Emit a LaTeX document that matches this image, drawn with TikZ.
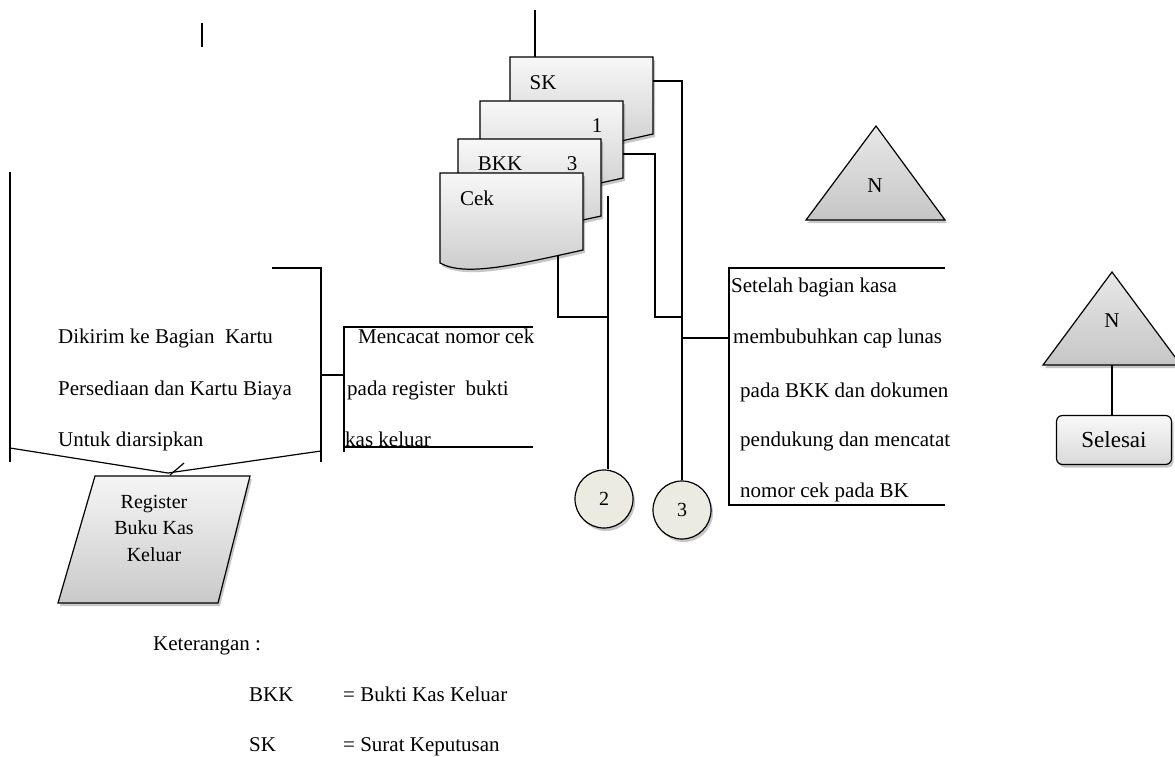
\documentclass[tikz,border=0pt]{standalone}
\usepackage{fontspec}
\setmainfont{Liberation Serif}
\usetikzlibrary{shadows}

% one document sheet with a wavy lower edge; #1 = name, (#2,#3) = top-left corner
\newcommand{\docsheet}[3]{%
  \begin{scope}[shift={(#2,#3)}]
    \path[sheet] (0,0) -- (143,0) -- (143,77)
      .. controls (75,92) and (25,104) .. (0,90) -- cycle;
    \coordinate (#1-nw) at (0,0);
  \end{scope}}

\begin{document}
\begin{tikzpicture}[x=1pt,y=-1pt,
  line/.style={line width=1.2pt},
  txt/.style={font=\fontsize{21}{25}\selectfont, inner sep=0pt, anchor=west,
              text height=14pt, text depth=4pt},
  ctxt/.style={txt, anchor=center},
  shade/.style={drop shadow={shadow xshift=2pt, shadow yshift=-3pt,
                opacity=0.22, fill=black}},
  sheet/.style={draw, line width=1.2pt, top color=gray!6, bottom color=gray!42, shade},
  tri/.style={draw, line width=1.2pt, top color=gray!18, bottom color=gray!45, shade},
  io/.style={draw, line width=1.2pt, top color=gray!8, bottom color=gray!42, shade},
  conn/.style={draw, line width=1.2pt, circle, minimum size=58pt, inner sep=0pt,
               fill={rgb,255:red,236;green,235;blue,226}, shade,
               font=\fontsize{20}{24}\selectfont},
  term/.style={draw, line width=1.2pt, rounded corners=6pt, top color=gray!5,
               bottom color=gray!30, shade, minimum width=115pt, minimum height=49pt,
               inner sep=0pt, font=\fontsize{23}{27}\selectfont}
]
\useasboundingbox (0,0) rectangle (1175,757);

% ---------- stray mark at the top ----------
\coordinate (m1a) at (202,23);
\coordinate (m1b) at (202,47);
\draw[line] (m1a) -- (m1b);

% ---------- left column: archive note and register ----------
\coordinate (lcTop) at (10,172);
\coordinate (lcBot) at (10,462);
\coordinate (lcV) at (10,448);
\coordinate (rcA) at (272,268);
\coordinate (rcB) at (321,268);
\coordinate (rcBot) at (321,462);
\coordinate (rcV) at (321,451);
\coordinate (vtip) at (168,473);
\draw[line] (lcTop) -- (lcBot);
\draw[line] (rcA) -- (rcB) -- (rcBot);
\draw[line] (lcV) -- (vtip) -- (rcV);

\node[txt] (t1) at (58,338) {Dikirim ke Bagian\ \ Kartu};
\node[txt] (t2) at (58,390) {Persediaan dan Kartu Biaya};
\node[txt] (t3) at (58,441) {Untuk diarsipkan};

\path[io] (95,476) -- (250,476) -- (218,603) -- (58,603) -- cycle;
\node[align=center, inner sep=0pt, font=\fontsize{20}{26.5}\selectfont]
  (reg) at (154,528) {Register\\Buku Kas\\Keluar};
\coordinate (regTop) at (170,475);
\coordinate (tick) at (184,463);
\draw[line] (regTop) -- (tick);

% ---------- middle note ----------
\coordinate (mbTop) at (344,327);
\coordinate (mbBot) at (344,452);
\coordinate (mbTR) at (533,327);
\coordinate (mbBL) at (344,447);
\coordinate (mbBR) at (533,447);
\draw[line] (mbBot) -- (mbTop) -- (mbTR);
\draw[line] (mbBL) -- (mbBR);
\node[txt] (m1) at (358,338) {Mencacat nomor cek};
\node[txt] (m2) at (347,390) {pada register\ \ bukti};
\node[txt] (m3) at (345,441) {kas keluar};
\coordinate (lcOut) at (321,375);
\coordinate (mbIn) at (344,375);
\draw[line] (lcOut) -- (mbIn);

% ---------- document stack ----------
\coordinate (skIn) at (535,57);
\coordinate (skFree) at (535,10);
\draw[line] (skFree) -- (skIn);
\docsheet{sk}{510}{57}
\docsheet{one}{480}{101}
\docsheet{bkk}{458}{139}
\docsheet{cek}{440}{173}
\node[ctxt] (lsk) at (543,85) {SK};
\node[ctxt] (lone) at (597,128) {1};
\node[ctxt] (lbkk) at (500,165) {BKK};
\node[ctxt] (lthree) at (572,165) {3};
\node[ctxt] (lcek) at (477,200) {Cek};

% ---------- off-page connectors ----------
\node[conn] (c2) at (604,499) {2};
\node[conn] (c3) at (682,510) {3};

\coordinate (skOut) at (653,81);
\coordinate (oneOut) at (623,154);
\coordinate (cekOut) at (558,255);
\coordinate (v2Top) at (608,196);
\coordinate (j2) at (608,317);
\coordinate (j1) at (655,317);
\coordinate (j3) at (682,317);
\coordinate (j4) at (682,338);
\coordinate (rbIn) at (729,338);

\draw[line] (skOut) -| (c3.north);
\draw[line] (oneOut) -| (j1) -- (j3);
\draw[line] (cekOut) |- (j2);
\draw[line] (v2Top) -- (v2Top |- c2.north);
\draw[line] (j4) -- (rbIn);

% ---------- right note ----------
\coordinate (rbTop) at (729,268);
\coordinate (rbBot) at (729,505);
\coordinate (rbTR) at (945,268);
\coordinate (rbBR) at (945,505);
\draw[line] (rbTR) -- (rbTop) -- (rbBot) -- (rbBR);
\node[txt] (r1) at (731,287) {Setelah bagian kasa};
\node[txt] (r2) at (733,338) {membubuhkan cap lunas};
\node[txt] (r3) at (740,392) {pada BKK dan dokumen};
\node[txt] (r4) at (740,441) {pendukung dan mencatat};
\node[txt] (r5) at (740,492) {nomor cek pada BK};

% ---------- archive triangles and end ----------
\path[tri] (876,126) -- (945,220) -- (806,220) -- cycle;
\node[ctxt] (n1) at (875,187) {N};
\path[tri] (1112,272) -- (1181,365) -- (1043,365) -- cycle;
\node[ctxt] (n2) at (1112,322) {N};
\coordinate (n2Base) at (1112,365);
\node[term] (end) at (1114,440) {Selesai};
\draw[line] (n2Base) -- (end.north -| n2Base);

% ---------- legend ----------
\node[txt] (k0) at (153,645) {Keterangan :};
\node[txt] (k1) at (249,696) {BKK};
\node[txt] (k2) at (343,696) {= Bukti Kas Keluar};
\node[txt] (k3) at (249,746) {SK};
\node[txt] (k4) at (343,746) {= Surat Keputusan};
\end{tikzpicture}
\end{document}
